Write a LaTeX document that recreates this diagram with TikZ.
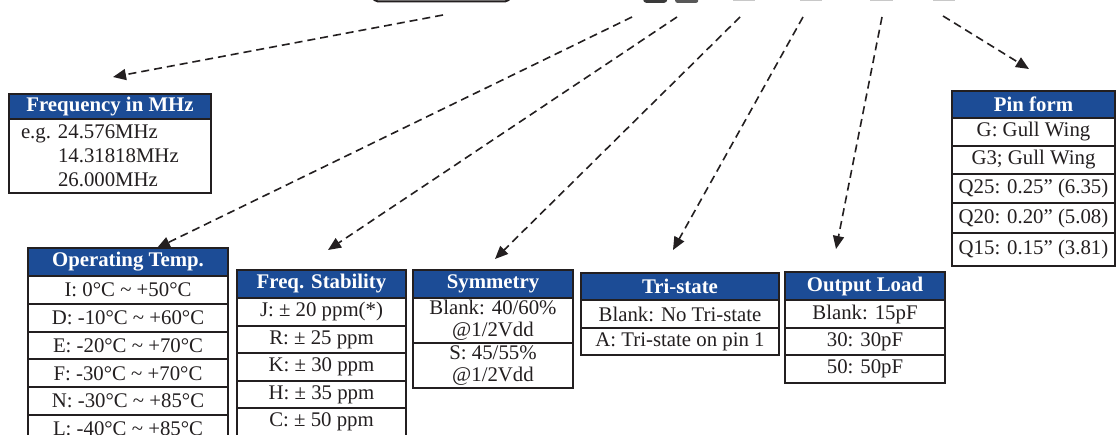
\documentclass[tikz,border=0pt]{standalone}
\usepackage{fontspec}
\setmainfont{Liberation Serif}
\usetikzlibrary{arrows.meta}
\definecolor{hblue}{HTML}{1C4C96}
\definecolor{bord}{HTML}{231F20}
\definecolor{topdark}{HTML}{3A3A3A}
\definecolor{toplight}{HTML}{C8C8C8}
\tikzset{
  hdr/.style={draw=bord, line width=2pt, fill=hblue, text=white, inner sep=0pt, anchor=north west,
    font=\fontsize{20.8}{24.5}\selectfont\bfseries},
  cell/.style={draw=bord, line width=2pt, fill=white, text=bord, inner sep=0pt, anchor=north west,
    align=center, font=\fontsize{20.8}{24}\selectfont},
  dasharrow/.style={draw=bord, line width=1.6pt, dash pattern=on 8pt off 5pt,
    -{Triangle[length=13pt,width=11pt]}},
}
\begin{document}
\begin{tikzpicture}[x=1pt,y=-1pt]
\useasboundingbox (0,0) rectangle (1118,435);
\clip (0,0) rectangle (1118,435);
\fill[white] (0,0) rectangle (1118,435);

% partial boxes at the top edge
\draw[bord, line width=2pt, rounded corners=5pt, fill=white] (373,-30) rectangle (510,1.5);
\node[fill=topdark, rounded corners=3pt, minimum width=24pt, minimum height=20pt, inner sep=0, anchor=south west] (top1) at (643,3) {};
\node[fill=topdark!85, rounded corners=2pt, minimum width=23pt, minimum height=20pt, inner sep=0, anchor=south west] (top2) at (675,3) {};
\node[fill=toplight, minimum width=22pt, minimum height=20pt, inner sep=0, anchor=south west] (top3) at (733,1.5) {};
\node[fill=toplight, minimum width=22pt, minimum height=20pt, inner sep=0, anchor=south west] (top4) at (800,1.5) {};
\node[fill=toplight, minimum width=23pt, minimum height=20pt, inner sep=0, anchor=south west] (top5) at (870,1.5) {};
\node[fill=toplight, minimum width=22pt, minimum height=20pt, inner sep=0, anchor=south west] (top6) at (933,1.5) {};

% Frequency in MHz
\node[hdr, minimum width=202pt, minimum height=25pt] (fm) at (8,93) {Frequency in MHz};
\node[cell, minimum width=202pt, minimum height=74pt, text width=178pt, align=left] (fm1) at (8,118)
  {e.g.\ 24.576MHz\\\hspace*{37pt}14.31818MHz\\\hspace*{37pt}26.000MHz};

% Pin form
\node[hdr, minimum width=163pt, minimum height=27pt] (pf) at (951,90) {Pin form};
\node[cell, minimum width=163pt, minimum height=28pt] (pf1) at (951,117) {G: Gull Wing};
\node[cell, minimum width=163pt, minimum height=28pt] (pf2) at (951,145) {G3; Gull Wing};
\node[cell, minimum width=163pt, minimum height=29pt] (pf3) at (951,173) {Q25: 0.25” (6.35)};
\node[cell, minimum width=163pt, minimum height=30pt] (pf4) at (951,202) {Q20: 0.20” (5.08)};
\node[cell, minimum width=163pt, minimum height=33pt] (pf5) at (951,232) {Q15: 0.15” (3.81)};

% Operating Temp.
\node[hdr, minimum width=200pt, minimum height=28pt] (ot) at (27,247) {Operating Temp.};
\node[cell, minimum width=200pt, minimum height=27.8pt] (ot1) at (27,275) {I: 0°C \textasciitilde\ +50°C};
\node[cell, minimum width=200pt, minimum height=27.8pt] (ot2) at (27,302.8) {D: -10°C \textasciitilde\ +60°C};
\node[cell, minimum width=200pt, minimum height=27.8pt] (ot3) at (27,330.6) {E: -20°C \textasciitilde\ +70°C};
\node[cell, minimum width=200pt, minimum height=27.8pt] (ot4) at (27,358.4) {F: -30°C \textasciitilde\ +70°C};
\node[cell, minimum width=200pt, minimum height=27.8pt] (ot5) at (27,386.2) {N: -30°C \textasciitilde\ +85°C};
\node[cell, minimum width=200pt, minimum height=27.8pt] (ot6) at (27,414) {L: -40°C \textasciitilde\ +85°C};

% Freq. Stability
\node[hdr, minimum width=169pt, minimum height=28pt] (fs) at (236,269) {Freq. Stability};
\node[cell, minimum width=169pt, minimum height=27.6pt] (fs1) at (236,297) {J: ± 20 ppm(*)};
\node[cell, minimum width=169pt, minimum height=27.6pt] (fs2) at (236,324.6) {R: ± 25 ppm};
\node[cell, minimum width=169pt, minimum height=27.6pt] (fs3) at (236,352.2) {K: ± 30 ppm};
\node[cell, minimum width=169pt, minimum height=27.6pt] (fs4) at (236,379.8) {H: ± 35 ppm};
\node[cell, minimum width=169pt, minimum height=27.6pt] (fs5) at (236,407.4) {C: ± 50 ppm};

% Symmetry
\node[hdr, minimum width=160pt, minimum height=28pt] (sy) at (412,269) {Symmetry};
\node[cell, minimum width=160pt, minimum height=45pt, font=\fontsize{20.8}{22}\selectfont] (sy1) at (412,297) {Blank: 40/60\%\\@1/2Vdd};
\node[cell, minimum width=160pt, minimum height=45pt, font=\fontsize{20.8}{22}\selectfont] (sy2) at (412,342) {S: 45/55\%\\@1/2Vdd};

% Tri-state
\node[hdr, minimum width=198pt, minimum height=27pt] (ts) at (580,272) {Tri-state};
\node[cell, minimum width=198pt, minimum height=28pt] (ts1) at (580,299) {Blank: No Tri-state};
\node[cell, minimum width=198pt, minimum height=27pt] (ts2) at (580,327) {A: Tri-state on pin 1};

% Output Load
\node[hdr, minimum width=160pt, minimum height=28pt] (ol) at (784,271) {Output Load};
\node[cell, minimum width=160pt, minimum height=28pt] (ol1) at (784,299) {Blank: 15pF};
\node[cell, minimum width=160pt, minimum height=27pt] (ol2) at (784,327) {30: 30pF};
\node[cell, minimum width=160pt, minimum height=28pt] (ol3) at (784,354) {50: 50pF};

% connector ends
\coordinate (t1) at (443,15);  \coordinate (h1) at (113,77);
\coordinate (t2) at (632,17);  \coordinate (h2) at (157,248);
\coordinate (t3) at (677,17);  \coordinate (h3) at (328,250);
\coordinate (t4) at (740,17);  \coordinate (h4) at (495,259);
\coordinate (t5) at (803,17);  \coordinate (h5) at (673,250);
\coordinate (t6) at (882,17);  \coordinate (h6) at (836,249);
\coordinate (t7) at (943,16);  \coordinate (h7) at (1029,69);

\draw[dasharrow] (t1) -- (h1);
\draw[dasharrow] (t2) -- (h2);
\draw[dasharrow] (t3) -- (h3);
\draw[dasharrow] (t4) -- (h4);
\draw[dasharrow] (t5) -- (h5);
\draw[dasharrow] (t6) -- (h6);
\draw[dasharrow] (t7) -- (h7);
\end{tikzpicture}
\end{document}
